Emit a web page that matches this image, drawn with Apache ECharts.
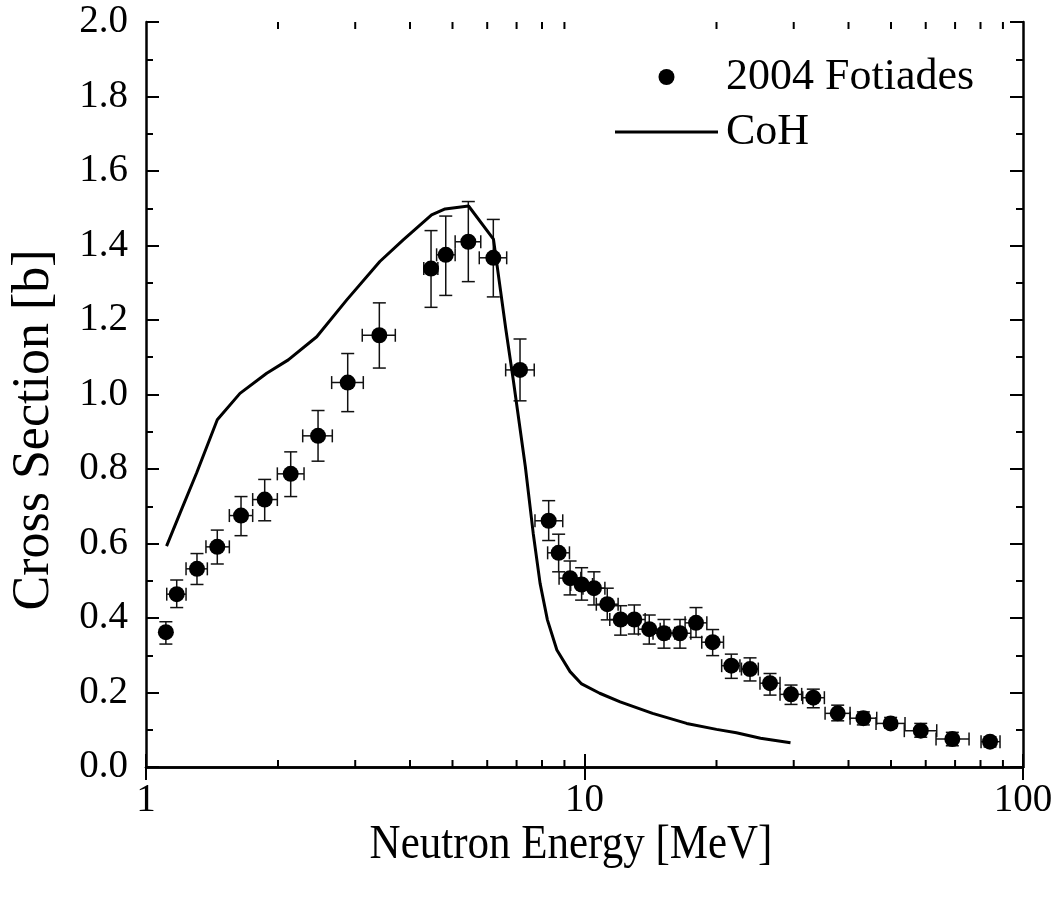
<!DOCTYPE html>
<html>
<head>
<meta charset="utf-8">
<script src="https://cdn.jsdelivr.net/npm/echarts@6/dist/echarts.min.js"></script>
<style>
html,body{margin:0;padding:0;background:#fff;}
#chart{width:1058px;height:900px;}
</style>
</head>
<body>
<div id="chart"></div>
<script>
// ---- data ----
const energy = [1.11,1.175,1.307,1.454,1.647,1.865,2.138,2.468,2.884,3.405,4.467,4.826,5.433,6.195,7.128,8.285,8.73,9.27,9.85,10.51,11.27,12.09,12.99,14.05,15.18,16.51,17.96,19.6,21.62,23.85,26.49,29.58,33.25,37.79,43.24,49.9,58.45,69.0,84.1];
const energyLow = [1.11,1.115,1.234,1.370,1.549,1.751,1.993,2.277,2.651,3.113,4.30,4.60,5.07,5.755,6.61,7.71,8.24,8.75,9.30,9.92,10.64,11.42,12.27,13.27,14.33,15.59,16.96,18.51,20.55,22.8,25.13,27.92,31.45,35.37,40.33,46.22,53.62,63.34,80.23];
const energyHigh = [1.11,1.234,1.380,1.549,1.751,1.993,2.293,2.660,3.130,3.703,4.63,5.07,5.80,6.646,7.68,8.92,9.24,9.81,10.43,11.13,11.93,12.80,13.75,14.88,16.07,17.48,19.01,20.75,22.62,24.91,27.92,31.28,35.24,40.33,46.39,53.82,63.57,75.33,88.63];
const sigma = [0.362,0.464,0.532,0.591,0.675,0.718,0.787,0.889,1.032,1.159,1.338,1.375,1.41,1.367,1.066,0.661,0.575,0.507,0.49,0.48,0.437,0.396,0.396,0.37,0.359,0.359,0.387,0.335,0.272,0.263,0.225,0.195,0.186,0.144,0.131,0.117,0.0975,0.075,0.068];
const sigmaLow = [0.33,0.428,0.49,0.545,0.621,0.661,0.726,0.821,0.954,1.071,1.234,1.266,1.303,1.262,0.983,0.608,0.524,0.462,0.448,0.435,0.395,0.354,0.357,0.33,0.319,0.319,0.348,0.299,0.238,0.231,0.193,0.168,0.159,0.124,0.113,0.104,0.08,0.057,0.054];
const sigmaHigh = [0.39,0.502,0.573,0.636,0.726,0.772,0.846,0.957,1.11,1.246,1.44,1.479,1.518,1.47,1.149,0.715,0.625,0.553,0.535,0.524,0.48,0.433,0.435,0.408,0.396,0.396,0.428,0.369,0.303,0.293,0.251,0.22,0.209,0.166,0.148,0.133,0.117,0.093,0.081];

const cohEnergy = [1.114,1.195,1.305,1.454,1.638,1.885,2.111,2.451,2.870,3.414,3.860,4.480,4.810,5.440,6.200,6.620,6.880,7.330,7.640,7.920,8.230,8.650,9.270,9.850,10.83,12.06,14.3,17.1,20.0,22.2,25.2,29.5];
const cohSigma = [0.593,0.681,0.790,0.932,1.003,1.057,1.093,1.155,1.254,1.357,1.415,1.482,1.498,1.506,1.417,1.173,1.039,0.806,0.627,0.493,0.395,0.314,0.256,0.223,0.198,0.175,0.144,0.117,0.101,0.092,0.077,0.065];

const xMinorTicks = [2,3,4,5,6,7,8,9,20,30,40,50,60,70,80,90];
const xTickLabels = ['1','10','100'];
const seriesNames = ['2004 Fotiades','CoH'];
const xTitle = 'Neutron Energy [MeV]';
const yTitle = 'Cross Section [b]';

const FONT = 'Liberation Serif';
const chart = echarts.init(document.getElementById('chart'), null, {renderer:'canvas'});

const pointData = energy.map((e,i)=>[e, sigma[i]]);
const errData = energy.map((e,i)=>[e, sigma[i], energyLow[i], energyHigh[i], sigmaLow[i], sigmaHigh[i]]);
const lineData = cohEnergy.map((e,i)=>[e, cohSigma[i]]);

const axisLine = {show:true, lineStyle:{color:'#000', width:2.5}};
const tickStyle = {color:'#000', width:2};

function errRender(params, api){
  const x = api.value(0), y = api.value(1);
  const xl = api.value(2), xh = api.value(3), yl = api.value(4), yh = api.value(5);
  const c = api.coord([x,y]);
  const pl = api.coord([xl,y]), ph = api.coord([xh,y]);
  const pb = api.coord([x,yl]), pt = api.coord([x,yh]);
  const cap = 6.5;
  const st = {stroke:'#111', lineWidth:1.5, fill:null};
  const ch = [
    {type:'line', shape:{x1:c[0],y1:pb[1],x2:c[0],y2:pt[1]}, style:st},
    {type:'line', shape:{x1:c[0]-cap,y1:pb[1],x2:c[0]+cap,y2:pb[1]}, style:st},
    {type:'line', shape:{x1:c[0]-cap,y1:pt[1],x2:c[0]+cap,y2:pt[1]}, style:st}
  ];
  if (ph[0]-pl[0] > 1){
    ch.push({type:'line', shape:{x1:pl[0],y1:c[1],x2:ph[0],y2:c[1]}, style:st});
    ch.push({type:'line', shape:{x1:pl[0],y1:c[1]-cap,x2:pl[0],y2:c[1]+cap}, style:st});
    ch.push({type:'line', shape:{x1:ph[0],y1:c[1]-cap,x2:ph[0],y2:c[1]+cap}, style:st});
  }
  return {type:'group', children:ch};
}

function minorRender(params, api){
  const x = api.value(0);
  const b = api.coord([x,0]), t = api.coord([x,2]);
  const L = 7;
  const st = {stroke:'#000', lineWidth:2};
  return {type:'group', children:[
    {type:'line', shape:{x1:b[0],y1:b[1],x2:b[0],y2:b[1]-L}, style:st},
    {type:'line', shape:{x1:t[0],y1:t[1],x2:t[0],y2:t[1]+L}, style:st}
  ]};
}

const option = {
  animation:false,
  backgroundColor:'#fff',
  grid:{left:146, right:35, top:22, bottom:133},
  legend:{
    data:[{name:seriesNames[0], icon:'circle'}, {name:seriesNames[1], icon:'path://M0,0L103,0L103,3L0,3Z'}],
    orient:'vertical', left:610, top:50,
    itemWidth:103, itemHeight:16, itemGap:11,
    textStyle:{fontFamily:FONT, fontSize:44, color:'#000', lineHeight:44, padding:[0,0,0,3]},
    selectedMode:false
  },
  xAxis:[
    {type:'log', logBase:10, min:1, max:100, position:'bottom',
     axisLine:axisLine,
     axisTick:{show:true, inside:true, length:13, lineStyle:tickStyle},
     minorTick:{show:false},
     splitLine:{show:false},
     axisLabel:{show:true, margin:14, color:'#000', fontFamily:FONT, fontSize:39,
       formatter:function(v){ const i = Math.round(Math.log10(v)); return xTickLabels[i] !== undefined ? xTickLabels[i] : ''; }}
    },
    {type:'log', logBase:10, min:1, max:100, position:'top',
     axisLine:axisLine,
     axisTick:{show:true, inside:true, length:13, lineStyle:tickStyle},
     splitLine:{show:false}, axisLabel:{show:false}
    }
  ],
  yAxis:[
    {type:'value', min:0, max:2, interval:0.2, position:'left',
     axisLine:axisLine,
     axisTick:{show:true, inside:true, length:13, lineStyle:tickStyle},
     minorTick:{show:true, splitNumber:2, length:7, lineStyle:tickStyle},
     splitLine:{show:false},
     axisLabel:{margin:18, color:'#000', fontFamily:FONT, fontSize:39, formatter:v=>v.toFixed(1)}
    },
    {type:'value', min:0, max:2, interval:0.2, position:'right',
     axisLine:axisLine,
     axisTick:{show:true, inside:true, length:13, lineStyle:tickStyle},
     minorTick:{show:true, splitNumber:2, length:7, lineStyle:tickStyle},
     splitLine:{show:false}, axisLabel:{show:false}
    }
  ],
  graphic:[
    {type:'text', position:[571,845], scaleY:1.12, style:{text:xTitle, font:'43px "Liberation Serif"', fill:'#000', textAlign:'center', textVerticalAlign:'middle'}, silent:true},
    {type:'text', rotation:Math.PI/2, position:[34,430], style:{text:yTitle, font:'52px "Liberation Serif"', fill:'#000', textAlign:'center', textVerticalAlign:'middle'}, silent:true}
  ],
  series:[
    {name:'minor', type:'custom', xAxisIndex:0, yAxisIndex:0, renderItem:minorRender, data:xMinorTicks.map(v=>[v]), silent:true, z:5, clip:false},
    {name:'errors', type:'custom', xAxisIndex:0, yAxisIndex:0, renderItem:errRender, data:errData, silent:true, z:3, encode:{x:0,y:1}},
    {name:seriesNames[1], type:'line', data:lineData, showSymbol:false, symbol:'none', smooth:false,
     lineStyle:{color:'#000', width:3}, itemStyle:{color:'#000'}, z:4},
    {name:seriesNames[0], type:'scatter', data:pointData, symbol:'circle', symbolSize:16,
     itemStyle:{color:'#000', opacity:1}, z:6}
  ]
};
chart.setOption(option);
</script>
</body>
</html>
